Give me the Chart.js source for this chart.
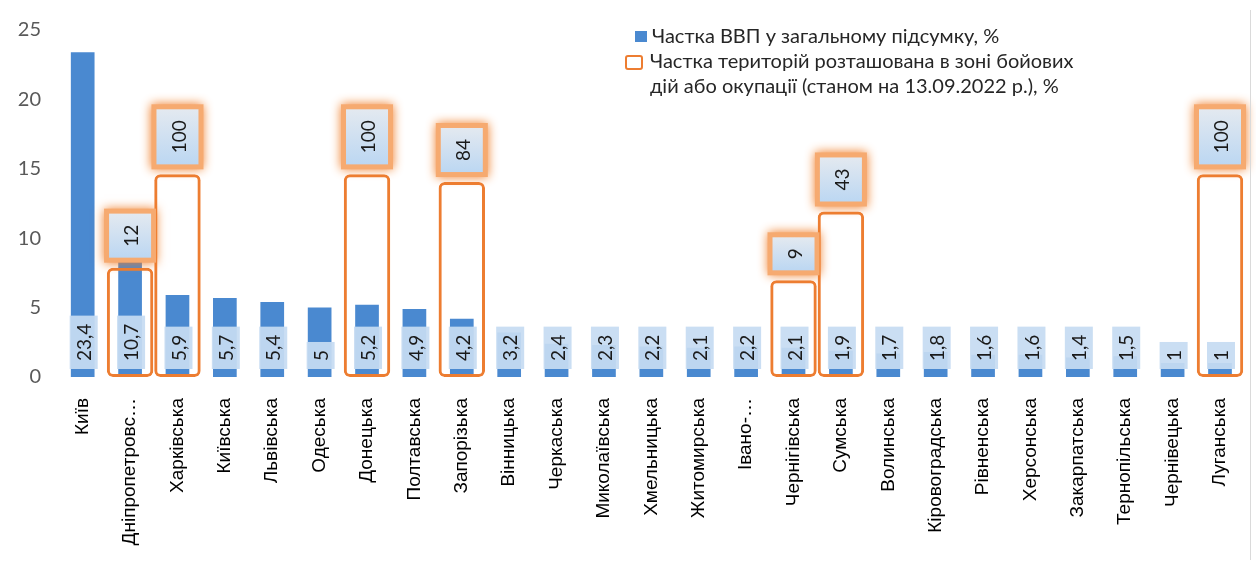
<!DOCTYPE html>
<html lang="uk">

<head>
    <meta charset="UTF-8">
    <title>Частка ВВП та територій</title>
    <style>
        body { margin: 0; background: #fff; }
        #wrap { position: relative; width: 1256px; height: 570px; }
        #frame { position: absolute; left: 1250px; top: 10px; width: 1px; height: 550px; background: #dadada; }
        #legend { position: absolute; left: 624px; top: 23px; font-family: Lato, sans-serif; font-size: 20px; color: #262626; line-height: 25px; }
        #legend .row { position: relative; }
        #legend .r1 { padding-left: 28px; }
        #legend .r2 { padding-left: 26px; }
        #legend .blue { position: absolute; left: 11px; top: 8px; width: 12px; height: 11px; background: #4a89d0; }
        #legend .orange { position: absolute; left: 1px; top: 7px; width: 14px; height: 11px; border: 2.5px solid #ed7d31; border-radius: 3px; }
    </style>
</head>

<body>
    <div id="wrap">
        <canvas id="gdpCanvas" width="1256" height="570"></canvas>
        <div id="frame"></div>
        <div id="legend">
            <div class="row r1"><span class="blue"></span>Частка ВВП у загальному підсумку, %</div>
            <div class="row r2"><span class="orange"></span>Частка територій розташована в зоні бойових<br>дій або окупації (станом на 13.09.2022 р.), %</div>
        </div>
    </div>

    <script src="https://cdn.jsdelivr.net/npm/chart.js@4.4.1/dist/chart.umd.min.js"></script>
    <script>
        const regions = ['Київ', 'Дніпропетровс…', 'Харківська', 'Київська', 'Львівська', 'Одеська', 'Донецька',
            'Полтавська', 'Запорізька', 'Вінницька', 'Черкаська', 'Миколаївська', 'Хмельницька', 'Житомирська',
            'Івано-…', 'Чернігівська', 'Сумська', 'Волинська', 'Кіровоградська', 'Рівненська', 'Херсонська',
            'Закарпатська', 'Тернопільська', 'Чернівецька', 'Луганська'];
        const gdpShare = [23.4, 10.7, 5.9, 5.7, 5.4, 5, 5.2, 4.9, 4.2, 3.2, 2.4, 2.3, 2.2, 2.1, 2.2, 2.1, 1.9,
            1.7, 1.8, 1.6, 1.6, 1.4, 1.5, 1, 1];
        const warZoneShare = [null, 12, 100, null, null, null, 100, null, 84, null, null, null, null, null,
            null, 9, 43, null, null, null, null, null, null, null, 100];
        const yTicks = [0, 5, 10, 15, 20, 25];

        function fmt(v) {
            return String(v).replace('.', ',');
        }

        function drawRotated(ctx, txt, x, y) {
            ctx.save();
            ctx.translate(x, y);
            ctx.rotate(-Math.PI / 2);
            ctx.fillStyle = '#1a1a1a';
            ctx.fillText(txt, 0, 1);
            ctx.restore();
        }

        // value labels in boxes, like the excel callouts
        const labelPlugin = {
            id: 'boxLabels',
            afterDatasetsDraw(chart) {
                const ctx = chart.ctx;
                const base = chart.scales.y.getPixelForValue(0);
                ctx.save();
                ctx.font = '19px Lato';
                ctx.textAlign = 'center';
                ctx.textBaseline = 'middle';

                chart.getDatasetMeta(0).data.forEach((bar, i) => {
                    const txt = fmt(gdpShare[i]);
                    const h = ctx.measureText(txt).width + 16;
                    const w = 28;
                    const bottom = base - 8;
                    ctx.fillStyle = 'rgba(198,220,242,0.93)';
                    ctx.fillRect(bar.x - w / 2 + 1, bottom - h, w, h);
                    drawRotated(ctx, txt, bar.x + 1, bottom - h / 2);
                });

                chart.getDatasetMeta(1).data.forEach((bar, i) => {
                    if (warZoneShare[i] == null) return;
                    const txt = fmt(warZoneShare[i]);
                    const h = ctx.measureText(txt).width + 22;
                    const w = 42;
                    const bottom = bar.y - 10;
                    ctx.save();
                    ctx.shadowColor = 'rgba(240,125,40,1)';
                    ctx.shadowBlur = 10;
                    ctx.fillStyle = 'rgba(246,170,112,1)';
                    ctx.fillRect(bar.x - w / 2 - 5, bottom - h - 5, w + 10, h + 10);
                    ctx.restore();
                    const g = ctx.createLinearGradient(0, bottom - h, 0, bottom);
                    g.addColorStop(0, '#e3e9f0');
                    g.addColorStop(1, '#bcd7f2');
                    ctx.fillStyle = g;
                    ctx.fillRect(bar.x - w / 2, bottom - h, w, h);
                    drawRotated(ctx, txt, bar.x + 1, bottom - h / 2);
                });
                ctx.restore();
            }
        };

        const ctx = document.getElementById('gdpCanvas').getContext('2d');
        const gdpChart = new Chart(ctx, {
            type: 'bar',
            data: {
                labels: regions,
                datasets: [{
                    label: 'Частка ВВП у загальному підсумку, %',
                    data: gdpShare,
                    backgroundColor: '#4a89d0',
                    barPercentage: 0.5,
                    categoryPercentage: 1,
                    grouped: false,
                    yAxisID: 'y',
                    order: 2
                }, {
                    label: 'Частка територій розташована в зоні бойових дій або окупації (станом на 13.09.2022 р.), %',
                    data: warZoneShare,
                    backgroundColor: 'rgba(0,0,0,0)',
                    borderColor: '#ed7d31',
                    borderWidth: 3,
                    borderRadius: 6,
                    borderSkipped: false,
                    barPercentage: 0.98,
                    categoryPercentage: 1,
                    grouped: false,
                    yAxisID: 'y2',
                    order: 1
                }]
            },
            options: {
                responsive: false,
                animation: false,
                layout: { padding: { top: 27, right: 10, left: 0, bottom: 0 } },
                plugins: { legend: { display: false }, tooltip: { enabled: false } },
                scales: {
                    x: {
                        grid: { display: false },
                        border: { display: false },
                        afterFit: s => { s.height = 193; },
                        ticks: {
                            autoSkip: false,
                            maxRotation: 90,
                            minRotation: 90,
                            padding: 13,
                            color: '#000',
                            font: { family: 'Liberation Sans', size: 19 }
                        }
                    },
                    y: {
                        min: 0,
                        max: 25,
                        afterFit: s => { s.width = 59; },
                        afterBuildTicks: s => { s.ticks = yTicks.map(v => ({ value: v })); },
                        grid: { display: false, drawTicks: false },
                        border: { display: false },
                        ticks: {
                            padding: 18,
                            color: '#595959',
                            font: { family: 'Lato', size: 20 }
                        }
                    },
                    y2: {
                        type: 'logarithmic',
                        min: 1,
                        max: 2660,
                        display: false
                    }
                }
            },
            plugins: [labelPlugin]
        });
    </script>
</body>

</html>
